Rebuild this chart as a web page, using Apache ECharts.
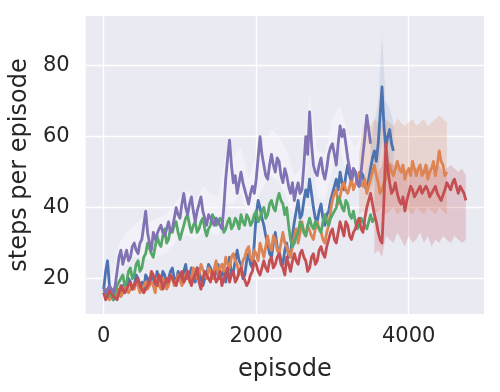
<!DOCTYPE html>
<html><head><meta charset="utf-8">
<script src="https://cdn.jsdelivr.net/npm/echarts@6/dist/echarts.min.js"></script>
<style>html,body{margin:0;padding:0;background:#fff}#c{width:500px;height:392px}</style>
</head><body><div id="c"></div>
<script>
const episodeStep = 25;
const bandStep = 50;
const purpleBandStep = 100;
const xTicks = [0, 2000, 4000];
const yTicks = [20, 40, 60, 80];

const blue = [17,22,25,18,16,14,15,17,16,15,18,16,17,20,19,17,18,21,20,17,
  19,17,21,20,18,21,20,18,22,20,19,22,21,18,20,22,23,20,19,22,
  21,19,22,24,20,21,23,20,19,23,22,20,18,20,21,24,23,21,20,22,
  24,20,21,23,19,22,26,21,22,25,28,25,24,20,21,25,27,24,23,30,
  38,42,40,37,35,32,30,27,26,30,33,29,28,25,24,28,30,26,27,32,
  36,39,42,37,38,42,45,43,48,44,40,37,36,39,41,37,35,38,39,42,
  44,46,48,45,50,47,45,49,52,49,47,51,50,47,46,50,49,46,45,48,
  51,54,56,53,58,66,74,63,57,60,62,58,56];
const orange = [16,17,15,14,16,17,15,16,17,15,16,18,18,16,16,18,17,19,18,16,
  16,18,19,17,17,19,18,16,20,18,17,20,19,17,18,21,20,18,19,21,
  21,18,19,21,22,19,20,23,23,20,21,24,24,21,20,23,22,20,23,25,
  21,23,24,22,26,24,23,26,27,25,24,21,22,25,26,28,29,26,25,28,
  27,25,30,28,26,29,32,29,28,32,31,28,27,30,33,30,29,27,26,29,
  32,34,30,33,36,33,32,35,35,32,31,34,36,34,33,31,30,33,35,39,
  42,44,45,41,43,46,47,45,44,46,48,45,45,48,50,47,46,48,44,46,
  48,50,52,49,47,44,45,47,48,51,52,50,49,51,53,51,50,52,48,50,
  51,49,53,51,49,51,52,49,50,52,48,50,51,53,49,52,56,53,52,49,
  50];
const green = [16,15,15,16,15,14,16,18,18,20,21,18,19,22,23,20,21,24,25,22,
  23,26,27,30,30,27,26,29,32,30,29,32,34,30,31,34,33,35,36,33,
  31,33,35,37,38,35,33,35,36,33,34,36,37,34,32,34,35,38,37,35,
  35,37,36,33,34,36,37,34,35,37,36,34,38,36,35,38,37,35,36,38,
  39,36,37,39,40,37,38,41,42,40,39,42,44,42,41,38,40,35,31,29,
  30,32,33,36,35,33,32,35,37,35,34,36,36,34,33,36,38,36,35,37,
  37,39,40,43,42,40,39,42,41,38,37,39,36,34,35,37,37,35,34,36,
  38,36,37];
const red = [16,14,15,17,17,15,15,14,16,18,18,16,16,18,19,17,17,19,20,18,
  18,16,16,18,19,22,21,19,18,21,20,17,17,20,19,21,21,19,18,20,
  20,22,19,20,22,20,18,20,21,23,19,17,20,22,22,20,19,22,21,19,
  20,22,18,20,21,23,19,21,22,19,20,22,23,21,21,18,19,21,22,25,
  24,22,21,23,25,23,22,25,26,23,24,26,27,24,23,21,26,24,22,25,
  27,25,24,27,28,26,25,22,23,26,27,24,25,28,29,27,26,29,31,33,
  34,31,30,33,36,34,32,36,35,32,31,33,34,36,37,34,33,37,40,42,
  44,41,38,36,33,31,30,42,58,51,47,44,45,47,44,42,41,43,39,42,
  44,46,45,43,43,45,46,44,44,46,45,43,43,45,46,44,44,42,42,45,
  47,46,45,47,48,46,44,46,45,44,42];
const purple = [17,16,16,18,17,16,18,22,26,28,24,26,28,25,26,29,30,28,27,30,
  31,35,39,33,30,28,33,31,31,34,35,33,32,34,36,33,34,37,40,38,
  37,41,44,40,38,41,43,39,36,39,41,43,39,37,35,38,38,36,35,37,
  37,35,34,40,48,54,59,52,47,49,44,47,50,47,45,43,41,44,46,44,
  48,54,60,55,52,49,48,52,55,52,50,54,53,49,47,51,49,46,44,47,
  42,45,47,44,45,52,60,55,67,58,52,50,49,52,54,50,48,51,55,57,
  58,55,52,58,63,60,62,58,54,51,48,51,50,47,46,50,55,60,66,62,
  58];

const orangeBandStart = 3350;
const orangeBandUpper = [55,63,64,63,65,64,63,65,64,63,65,64,63,64,65,63,64,65,63,64,65,66,65,64];
const orangeBandLower = [38,39,38,40,38,39,40,38,39,40,38,39,40,39,38,40,39,38,40,39,38,40,39,38];
const redBandStart = 3550;
const redBandUpper = [48,50,52,60,53,52,51,52,51,50,52,51,50,51,52,50,51,52,50,51,52,51,50,51,49];
const redBandLower = [27,28,26,32,31,30,33,31,29,32,30,31,33,30,32,29,31,30,32,31,30,32,31,30,31];
const blueBandStart = 3500;
const blueBandUpper = [58,64,70,89,70,68,64];
const blueBandLower = [44,48,50,60,48,50,48];
const purpleBandStart = 0;
const purpleBandUpper = [19,20,30,33,35,37,36,37,38,40,43,45,42,46,44,43,55,54,57,48,55,59,62,60,56,49,52,72,56,55,65,69,61,57,62,64];
const purpleBandLower = [15,15,22,24,26,26,25,26,27,29,32,32,31,33,33,32,41,41,44,36,42,46,49,47,43,37,39,60,43,42,51,57,48,44,49,53];

const C = {blue:'#4C72B0', orange:'#DD8452', green:'#55A868', red:'#C44E52', purple:'#8172B3'};
const FONT = 'DejaVu Sans';

function toPairs(vals, start){ return vals.map((v,i)=>[start + i*episodeStep, v]); }
function bandSeries(start, step, lower, upper, color){
  const data = lower.map((lo,i)=>[start + i*step, lo, upper[i]]);
  return {type:'custom', silent:true, clip:true, data, encode:{x:0, y:[1,2]}, z:1,
    renderItem(params, api){
      if (params.dataIndex !== 0) return;
      const pts = [];
      for (let i=0;i<data.length;i++) pts.push(api.coord([data[i][0], data[i][2]]));
      for (let i=data.length-1;i>=0;i--) pts.push(api.coord([data[i][0], data[i][1]]));
      return {type:'polygon', shape:{points:pts}, style:{fill:color}};
    }};
}
function lineSeries(vals, color, z){
  return {type:'line', data: toPairs(vals, 0), showSymbol:false, symbol:'none', z,
    lineStyle:{color, width:2.8, join:'round'}, itemStyle:{color}, animation:false};
}

const chart = echarts.init(document.getElementById('c'), null, {renderer:'canvas'});
chart.setOption({
  animation:false,
  backgroundColor:'#ffffff',
  grid:{left:83, right:16, top:16, bottom:78, show:true, backgroundColor:'#EAEAF2', borderWidth:0},
  xAxis:{type:'value', min:-237.5, max:4987.5,
    name:'episode', nameLocation:'middle', nameGap:44,
    nameTextStyle:{fontFamily:FONT, fontSize:24, color:'#262626'},
    axisLine:{show:false}, axisTick:{show:false, customValues:xTicks},
    axisLabel:{customValues:xTicks, formatter:v=>String(v), fontFamily:FONT, fontSize:21, color:'#262626', margin:12},
    splitLine:{show:true, lineStyle:{color:'#ffffff', width:1.3}}},
  yAxis:{type:'value', min:10, max:94,
    name:'steps per episode', nameLocation:'middle', nameGap:44,
    nameTextStyle:{fontFamily:FONT, fontSize:24, color:'#262626'},
    axisLine:{show:false}, axisTick:{show:false, customValues:yTicks},
    axisLabel:{customValues:yTicks, formatter:v=>String(v), fontFamily:FONT, fontSize:21, color:'#262626', margin:16},
    splitLine:{show:true, lineStyle:{color:'#ffffff', width:1.3}}},
  series:[
    bandSeries(purpleBandStart, purpleBandStep, purpleBandLower, purpleBandUpper, 'rgba(246,245,251,0.6)'),
    bandSeries(orangeBandStart, bandStep, orangeBandLower, orangeBandUpper, 'rgba(221,132,82,0.22)'),
    bandSeries(redBandStart, bandStep, redBandLower, redBandUpper, 'rgba(196,78,82,0.22)'),
    bandSeries(blueBandStart, bandStep, blueBandLower, blueBandUpper, 'rgba(76,114,176,0.12)'),
    lineSeries(blue, C.blue, 2),
    lineSeries(orange, C.orange, 3),
    lineSeries(green, C.green, 4),
    lineSeries(red, C.red, 5),
    lineSeries(purple, C.purple, 6)
  ]
});
</script></body></html>
